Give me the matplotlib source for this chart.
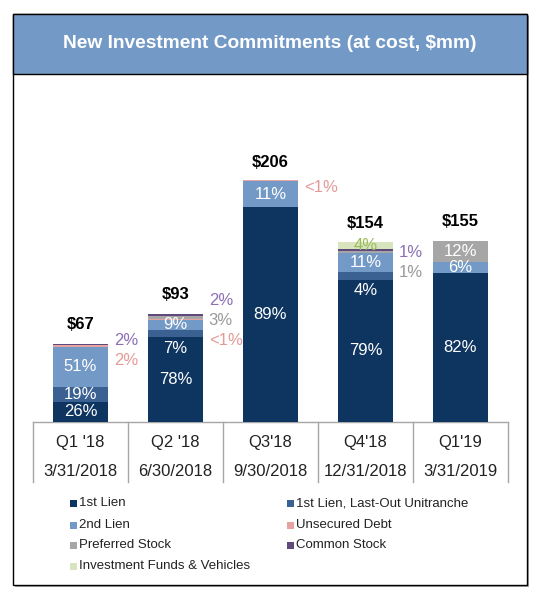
import matplotlib.pyplot as plt
import matplotlib.patches as mpatches
from matplotlib.transforms import blended_transform_factory
import numpy as np

plt.rcParams['font.family'] = ['Liberation Sans', 'DejaVu Sans']

# data
quarters = ["Q1 '18", "Q2 '18", "Q3'18", "Q4'18", "Q1'19"]
dates = ["3/31/2018", "6/30/2018", "9/30/2018", "12/31/2018", "3/31/2019"]
totals = [67, 93, 206, 154, 155]

# share of each quarter, in percent (0.5 means "<1%")
first_lien = [26, 78, 89, 79, 82]
last_out = [19, 7, 0, 4, 0]
second_lien = [51, 9, 11, 11, 6]
unsecured = [2, 0.5, 0.5, 0, 0]
preferred = [0, 3, 0, 1, 12]
common = [2, 2, 0, 1, 0]
funds = [0, 0, 0, 4, 0]

series = [
    ("1st Lien", first_lien, "#0e3560", "white"),
    ("1st Lien, Last-Out Unitranche", last_out, "#3b6192", "white"),
    ("2nd Lien", second_lien, "#7399c6", "white"),
    ("Unsecured Debt", unsecured, "#e6a3a1", "#e39b98"),
    ("Preferred Stock", preferred, "#a6a6a6", "#9a9a9a"),
    ("Common Stock", common, "#604a7b", "#8e6fb6"),
    ("Investment Funds & Vehicles", funds, "#d7e4bd", "#9bbb59"),
]
outside = ["Common Stock", "Preferred Stock", "Unsecured Debt"]


def pct_text(p):
    return "<1%" if p < 1 else f"{p:g}%"


W, H = 538, 593
fig = plt.figure(figsize=(W / 100, H / 100), dpi=100)

def fx(x):
    return x / W

def fy(y):
    return 1 - y / H

# frame + header band
fl, fr, ft, fb = 13, 527, 14, 585
fig.patches.append(mpatches.Rectangle((fx(fl + 2), fy(fb + 2)), fx(fr - fl), fy(ft + 2) - fy(fb + 2),
                                      transform=fig.transFigure, facecolor='#a8a8a8', edgecolor='none', zorder=0))
fig.patches.append(mpatches.Rectangle((fx(fl), fy(fb)), fx(fr - fl), fy(ft) - fy(fb),
                                      transform=fig.transFigure, facecolor='white', edgecolor='black', lw=1.0, zorder=1))
fig.patches.append(mpatches.Rectangle((fx(fl), fy(74)), fx(fr - fl), fy(ft) - fy(74),
                                      transform=fig.transFigure, facecolor='#7399c6', edgecolor='black', lw=1.0, zorder=2))
fig.text(fx((fl + fr) / 2), fy(44), "New Investment Commitments (at cost, $mm)", color='white',
         fontsize=13.8, fontweight='bold', ha='center', va='center', zorder=3)

scale = 1.17  # px per $mm
ax_left, ax_right, base_y, top_y = 33, 508, 422, 100
ax = fig.add_axes([fx(ax_left), fy(base_y), (ax_right - ax_left) / W, (base_y - top_y) / H])
ax.set_zorder(4)
ax.set_xlim(-0.5, len(quarters) - 0.5)
ax.set_ylim(0, (base_y - top_y) / scale)
ax.axis('off')

x = np.arange(len(quarters))
bw = 0.58
values = {}
bottoms = np.zeros(len(quarters))
for name, pcts, color, tcolor in series:
    vals = np.array(totals) * np.array(pcts) / 100
    values[name] = pcts
    ax.bar(x, vals, bw, bottom=bottoms, color=color, edgecolor='none', zorder=2)
    for i, (p, v) in enumerate(zip(pcts, vals)):
        if p == 0 or (name in outside and p < 5):
            continue
        yc = bottoms[i] + v / 2
        if name == "1st Lien, Last-Out Unitranche" and v < 8:
            yc = bottoms[i] - 9.5
        ax.text(x[i], yc, pct_text(p), color=tcolor if p < 5 or name not in outside else 'white',
                fontsize=12, ha='center', va='center', zorder=3)
    bottoms += vals

# labels beside the bars for the thin slices
colors = {n: c for n, _, _, c in series}
for i, tot in enumerate(totals):
    items = [n for n in outside if 0 < values[n][i] < 5]
    n = len(items)
    start = tot + 8.5 * (n - 1) - 6
    if funds[i] > 0:
        start -= 12
    for k, name in enumerate(items):
        ax.text(x[i] + bw / 2 + 0.06, start - 17 * k, pct_text(values[name][i]),
                color=colors[name], fontsize=12, ha='left', va='center')
    ax.text(x[i], tot + 16, f"${tot}", fontsize=12, fontweight='bold', ha='center', va='center')

# category axis
trans = blended_transform_factory(ax.transData, ax.transAxes)
drop = 60 / (base_y - top_y)
ax.plot([-0.5, len(quarters) - 0.5], [0, 0], color='#a6a6a6', lw=1, transform=trans,
        clip_on=False, zorder=1)
for b in np.arange(len(quarters) + 1) - 0.5:
    ax.plot([b, b], [0, -drop], color='#a6a6a6', lw=1, transform=trans, clip_on=False)
for i in x:
    ax.text(i, -20 / (base_y - top_y), quarters[i], fontsize=12, color='#222222',
            ha='center', va='center', transform=trans)
    ax.text(i, -49 / (base_y - top_y), dates[i], fontsize=12, color='#222222',
            ha='center', va='center', transform=trans)

# legend (two columns)
rows = [503, 525, 545, 566]
cols = [70, 287]
legend_order = [0, 2, 4, 6, 1, 3, 5]
for j, si in enumerate(legend_order):
    name, _, color, _ = series[si]
    c, r = divmod(j, 4)
    lx, ly = cols[c], rows[r]
    fig.patches.append(mpatches.Rectangle((fx(lx), fy(ly + 3.5)), fx(7), fy(ly - 3.5) - fy(ly + 3.5),
                                          transform=fig.transFigure, facecolor=color, edgecolor='none', zorder=3))
    fig.text(fx(lx + 9), fy(ly), name, fontsize=9.5, color='#222222', ha='left', va='center', zorder=3)

fig.savefig('out.png', dpi=100)
